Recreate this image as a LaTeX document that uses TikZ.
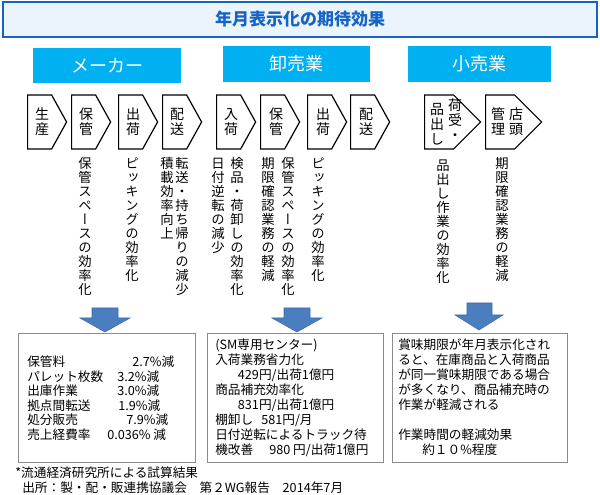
\documentclass[tikz,border=0pt]{standalone}
\usepackage{fontspec}
\setmainfont{Noto Sans CJK JP}
\newfontfamily\vjp[RawFeature=+vert]{Noto Sans CJK JP}
\usepackage{tikz}
\usetikzlibrary{shapes, positioning}

\definecolor{ttlblue}{HTML}{1563C4}
\definecolor{ttlfill}{HTML}{EBF3FB}
\definecolor{catblue}{HTML}{00B0F0}
\definecolor{arrblue}{HTML}{4A7EBF}
\definecolor{arrline}{HTML}{3C6AA6}
\definecolor{boxgray}{HTML}{8C8C8C}

% one character per line, for the vertical labels
\makeatletter
\newcommand\vstack[1]{\vbox{\offinterlineskip\vjp\vst@ck#1\relax}}
\newcommand\vst@ck[1]{\ifx\relax#1\else\hbox to 1em{\hss\vrule height .86em depth .19em width 0pt\relax #1\hss}\expandafter\vst@ck\fi}
\makeatother

\begin{document}
\begin{tikzpicture}[x=0.75pt, y=-0.75pt]
		\tikzstyle{cat}=[fill=catblue, text=white, font=\fontsize{13.5}{16}\selectfont, inner sep=0pt]
		\tikzstyle{chev}=[draw=black, fill=white, line width=0.9pt, shape=signal, signal to=east, signal pointer angle=122, minimum width=29.25pt, minimum height=40.5pt, inner sep=0pt, anchor=west]
		\tikzstyle{chevR}=[chev, signal pointer angle=90, minimum width=42pt]
		\tikzstyle{clab}=[inner sep=0pt, font=\fontsize{10.5}{12}\selectfont]
		\tikzstyle{vtxt}=[inner sep=0pt, anchor=north, font=\fontsize{10}{11}\selectfont]
		\tikzstyle{resbox}=[draw=boxgray, line width=0.8pt, anchor=north west, inner sep=0pt]
		\tikzstyle{restxt}=[anchor=north west, inner sep=0pt, align=left, font=\fontsize{9.5}{11.25}\selectfont]
		\tikzstyle{downarr}=[fill=arrblue, draw=arrline, line width=0.4pt]
		
		\useasboundingbox (0,0) rectangle (600,495);
		
		\node (title) at (300,19.5) [draw=ttlblue, line width=1.6pt, fill=ttlfill, minimum width=446pt, minimum height=26.25pt, text=ttlblue, font=\fontsize{12.75}{15}\selectfont\bfseries] {年月表示化の期待効果};
		
		\node (maker) at (107,65.5) [cat, minimum width=111pt, minimum height=26.25pt] {メーカー};
		\node (whole) at (296.5,64) [cat, minimum width=110.25pt, minimum height=27pt] {卸売業};
		\node (retail) at (479.5,64) [cat, minimum width=107.25pt, minimum height=27pt] {小売業};
		
		% maker
		\node (mkA) at (27,122) [chev] {};
		\node (mkB) at (71,122) [chev] {};
		\node (mkC) at (118,122) [chev] {};
		\node (mkD) at (162,122) [chev] {};
		\node (mkAl) at (42,122) [clab] {\vstack{生産}};
		\node (mkBl) at (86,122) [clab] {\vstack{保管}};
		\node (mkCl) at (133,122) [clab] {\vstack{出荷}};
		\node (mkDl) at (177,122) [clab] {\vstack{配送}};
		
		\node (mkBe) at (85,157) [vtxt] {\vstack{保管スペースの効率化}};
		\node (mkCe) at (132,157) [vtxt] {\vstack{ピッキングの効率化}};
		\node (mkDe) at (182,157) [vtxt] {\vstack{転送・持ち帰りの減少}};
		\node (mkDf) at (167,157) [vtxt] {\vstack{積載効率向上}};
		
		% wholesale
		\node (whA) at (216,122) [chev] {};
		\node (whB) at (260,122) [chev] {};
		\node (whC) at (307,122) [chev] {};
		\node (whD) at (350,122) [chev] {};
		\node (whAl) at (231,122) [clab] {\vstack{入荷}};
		\node (whBl) at (276,122) [clab] {\vstack{保管}};
		\node (whCl) at (323,122) [clab] {\vstack{出荷}};
		\node (whDl) at (366,122) [clab] {\vstack{配送}};
		
		\node (whAe) at (237,157) [vtxt] {\vstack{検品・荷卸しの効率化}};
		\node (whAf) at (218,157) [vtxt] {\vstack{日付逆転の減少}};
		\node (whBe) at (288,157) [vtxt] {\vstack{保管スペースの効率化}};
		\node (whBf) at (268,157) [vtxt] {\vstack{期限確認業務の軽減}};
		\node (whCe) at (318,157) [vtxt] {\vstack{ピッキングの効率化}};
		
		% retail
		\node (rtA) at (424,122) [chevR] {};
		\node (rtB) at (485,122) [chevR] {};
		\node (rtAl) at (455,121) [clab] {\vstack{荷受・}};
		\node (rtAm) at (437,125) [clab] {\vstack{品出し}};
		\node (rtBl) at (516,122) [clab] {\vstack{店頭}};
		\node (rtBm) at (498,122) [clab] {\vstack{管理}};
		
		\node (rtAe) at (443,159) [vtxt] {\vstack{品出し作業の効率化}};
		\node (rtBe) at (502,157) [vtxt] {\vstack{期限確認業務の軽減}};
		
		% arrows
		\draw[downarr] (105,332) -- (80,318) -- (92,318) -- (92,308) -- (118,308) -- (118,318) -- (130,318) -- cycle;
		\draw[downarr] (297,332) -- (272,318) -- (284,318) -- (284,308) -- (310,308) -- (310,318) -- (322,318) -- cycle;
		\draw[downarr] (479,330) -- (455,315) -- (467,315) -- (467,303) -- (492,303) -- (492,315) -- (503,315) -- cycle;
		
		% results
		\node (mkbox) at (18,333) [resbox, minimum width=132.75pt, minimum height=96.75pt] {};
		\node (whbox) at (207,333) [resbox, minimum width=132pt, minimum height=96.75pt] {};
		\node (rtbox) at (392,333) [resbox, minimum width=131.25pt, minimum height=96.75pt] {};
		
		\node (mktxt) at (27,355.5) [restxt, font=\fontsize{9.5}{10.95}\selectfont] {\makebox[78.75pt][l]{保管料}2.7\%減\\
			\makebox[67.5pt][l]{パレット枚数}3.2\%減\\
			\makebox[67.5pt][l]{出庫作業}3.0\%減\\
			\makebox[68.25pt][l]{拠点間転送}1.9\%減\\
			\makebox[74.25pt][l]{処分販売}7.9\%減\\
			\makebox[60pt][l]{売上経費率}0.036\% 減};
		\node (whtxt) at (215,338.7) [restxt] {(SM専用センター)\\
			入荷業務省力化\\
			\hspace*{17pt}429円/出荷1億円\\
			商品補充効率化\\
			\hspace*{17pt}831円/出荷1億円\\
			棚卸し\hspace{6pt}581円/月\\
			日付逆転によるトラック待\\
			機改善\hspace{12pt}980 円/出荷1億円};
		\node (rttxt) at (398,338.7) [restxt] {賞味期限が年月表示化され\\
			ると、在庫商品と入荷商品\\
			が同一賞味期限である場合\\
			が多くなり、商品補充時の\\
			作業が軽減される\\
			\mbox{}\\
			作業時間の軽減効果\\
			\hspace*{18pt}約１０\%程度};
		
		\node (note1) at (15,473) [anchor=west, inner sep=0pt, font=\fontsize{9.5}{11}\selectfont] {*流通経済研究所による試算結果};
		\node (note2) at (22,488) [anchor=west, inner sep=0pt, font=\fontsize{9.5}{11}\selectfont] {出所：製・配・販連携協議会　第２WG報告　2014年7月};
		
\end{tikzpicture}
\end{document}
